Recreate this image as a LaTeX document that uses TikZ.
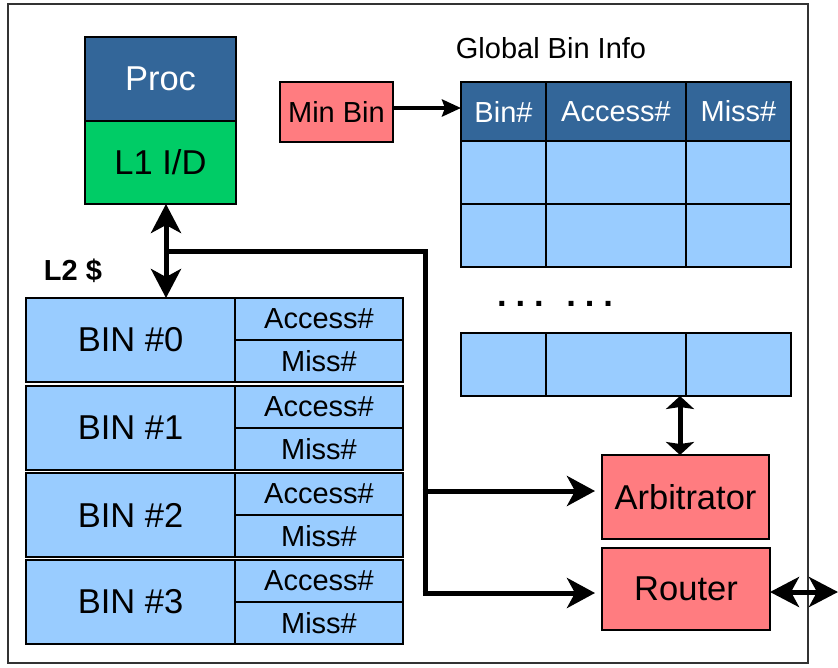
\documentclass[tikz,border=0pt]{standalone}
\usepackage{fontspec}
\setmainfont{Liberation Sans}
\usetikzlibrary{arrows.meta}
\definecolor{procblue}{HTML}{336699}
\definecolor{lgreen}{HTML}{00CC66}
\definecolor{lblue}{HTML}{99CCFF}
\definecolor{lred}{HTML}{FF7C80}
\newcommand{\bigf}{\fontsize{34.5}{40}\selectfont}
\newcommand{\smallf}{\fontsize{29}{34}\selectfont}
\begin{document}
\begin{tikzpicture}[x=1pt,y=-1pt,
  cellbox/.style={draw=black, line width=1.7pt, inner sep=0pt, outer sep=0pt},
  bigbox/.style={cellbox, font=\bigf},
  smallbox/.style={cellbox, font=\smallf},
  bus/.style={line width=5pt},
  dbl/.style={line width=5pt, {Stealth[length=29pt,width=30pt,inset=8pt]}-{Stealth[length=29pt,width=30pt,inset=8pt]}},
  sarr/.style={line width=5pt, shorten >=7pt, -{Stealth[length=28pt,width=30pt,inset=8pt]}},
  flatdbl/.style={line width=5pt, {Stealth[length=13pt,width=28pt,inset=2pt]}-{Stealth[length=13pt,width=28pt,inset=2pt]}},
  minarr/.style={line width=4.5pt, -{Stealth[length=19pt,width=17pt,inset=3pt]}}
]
\useasboundingbox (0,0) rectangle (838,667);
\fill[white] (0,0) rectangle (838,667);
\draw[line width=1.7pt, black!80] (8,4) rectangle (808,663);

% Processor
\node[bigbox, fill=procblue, text=white, minimum width=151pt, minimum height=84pt] (proc) at (160.5,79) {Proc};
\node[bigbox, fill=lgreen, minimum width=151pt, minimum height=83pt] (l1) at (160.5,162.5) {L1 I/D};

% Min Bin
\node[smallbox, fill=lred, minimum width=113pt, minimum height=60pt] (minbin) at (336.5,112) {Min Bin};

% Global Bin Info
\node[font=\smallf] (gbi) at (551,48) {Global Bin Info};
\node[smallbox, fill=procblue, text=white, minimum width=85pt, minimum height=59pt] (h1) at (503.5,111.5) {Bin\#};
\node[smallbox, fill=procblue, text=white, minimum width=140pt, minimum height=59pt] (h2) at (616,111.5) {Access\#};
\node[smallbox, fill=procblue, text=white, minimum width=105pt, minimum height=59pt] (h3) at (738.5,111.5) {Miss\#};
\node[cellbox, fill=lblue, minimum width=85pt, minimum height=63pt] (r1a) at (503.5,172.5) {};
\node[cellbox, fill=lblue, minimum width=140pt, minimum height=63pt] (r1b) at (616,172.5) {};
\node[cellbox, fill=lblue, minimum width=105pt, minimum height=63pt] (r1c) at (738.5,172.5) {};
\node[cellbox, fill=lblue, minimum width=85pt, minimum height=63pt] (r2a) at (503.5,235.5) {};
\node[cellbox, fill=lblue, minimum width=140pt, minimum height=63pt] (r2b) at (616,235.5) {};
\node[cellbox, fill=lblue, minimum width=105pt, minimum height=63pt] (r2c) at (738.5,235.5) {};
\node[font=\bigf\bfseries, anchor=base] (dots) at (555,306) {.\kern8.9pt.\kern8.9pt.\kern22.5pt.\kern8.9pt.\kern8.9pt.};
\node[cellbox, fill=lblue, minimum width=85pt, minimum height=63pt] (rna) at (503.5,364.5) {};
\node[cellbox, fill=lblue, minimum width=140pt, minimum height=63pt] (rnb) at (616,364.5) {};
\node[cellbox, fill=lblue, minimum width=105pt, minimum height=63pt] (rnc) at (738.5,364.5) {};

% Arbitrator / Router
\node[bigbox, fill=lred, minimum width=167pt, minimum height=84pt] (arb) at (685.5,497) {Arbitrator};
\node[bigbox, fill=lred, minimum width=168pt, minimum height=82pt] (router) at (686,589) {Router};

% L2 bins
\node[font=\smallf\bfseries] (l2) at (73,271) {L2 \$};
\foreach \i/\t in {0/298,1/386,2/473,3/560}{
  \node[bigbox, fill=lblue, minimum width=209pt, minimum height=84pt] (bin\i) at (130.5,\t+42) {BIN \#\i};
  \node[smallbox, fill=lblue, minimum width=168pt, minimum height=42pt] (acc\i) at (319,\t+21) {Access\#};
  \node[smallbox, fill=lblue, minimum width=168pt, minimum height=42pt] (miss\i) at (319,\t+63) {Miss\#};
}

% connectors
\coordinate (vx) at (166,251);
\coordinate (bt) at (425,251);
\coordinate (bb) at (425,593);
\coordinate (ba) at (425,491);
\coordinate (tx) at (680,0);
\coordinate (ext) at (838,592);
\coordinate (my) at (0,108);

\draw[dbl] (vx |- l1.south) -- (vx |- bin0.north);
\draw[bus, line cap=butt] ([xshift=-2pt]vx) -- (bt) -- ([yshift=2.5pt]bb);
\draw[sarr] ([xshift=-2.5pt]ba) -- (ba -| arb.west);
\draw[sarr] ([xshift=-2.5pt]bb) -- (bb -| router.west);
\draw[flatdbl] (tx |- rnb.south) -- (tx |- arb.north);
\draw[dbl] (router.east |- ext) -- (ext);
\draw[minarr] (minbin.east |- my) -- (h1.west |- my);
\end{tikzpicture}
\end{document}
